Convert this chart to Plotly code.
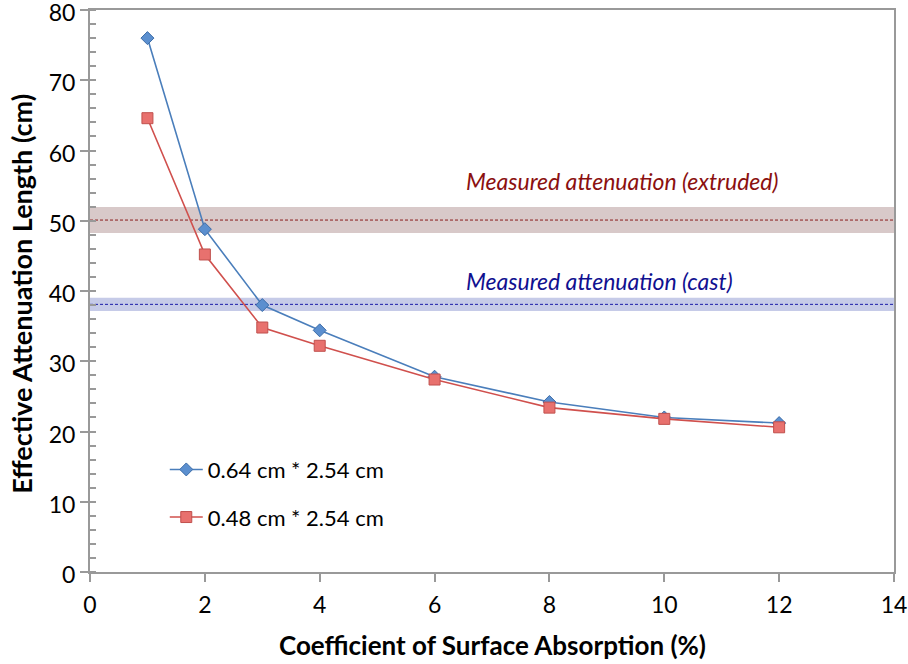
import plotly.graph_objects as go

x_vals = [1, 2, 3, 4, 6, 8, 10, 12]
series_a = [76.0, 48.8, 38.0, 34.4, 27.8, 24.2, 22.0, 21.2]
series_b = [64.6, 45.2, 34.8, 32.2, 27.4, 23.4, 21.8, 20.6]
name_a = "0.64 cm * 2.54 cm"
name_b = "0.48 cm * 2.54 cm"

measured_names = ["Measured attenuation (extruded)", "Measured attenuation (cast)"]
measured_values = [50.1, 38.1]
measured_errors = [1.85, 0.95]
measured_label_y = [55.7, 41.4]
measured_label_x = 6.52

x_ticks = [0, 2, 4, 6, 8, 10, 12, 14]
y_ticks = [0, 10, 20, 30, 40, 50, 60, 70, 80]

x_title = "Coefficient of Surface Absorption (%)"
y_title = "Effective Attenuation Length (cm)"

FONT = "Lato"
axis_grey = "#999999"
band_fill = ["#D8C9C9", "#C6CBE8"]
line_col = ["#8B1A1A", "#1A1AA8"]
text_col = ["#8B1010", "#101090"]

fig = go.Figure()

shapes = []
for v, e, bf, lc in zip(measured_values, measured_errors, band_fill, line_col):
    shapes.append(dict(type="rect", xref="paper", yref="y", x0=0, x1=1,
                       y0=v - e, y1=v + e, fillcolor=bf, line=dict(width=0),
                       layer="below"))
    shapes.append(dict(type="line", xref="paper", yref="y", x0=0, x1=1,
                       y0=v, y1=v, line=dict(color=lc, width=1, dash="3px,2px"),
                       layer="below"))

annotations = []
for nm, ly, tc in zip(measured_names, measured_label_y, text_col):
    annotations.append(dict(x=measured_label_x, y=ly, xref="x", yref="y",
                            text="<i>" + nm + "</i>",
                            showarrow=False, xanchor="left", yanchor="middle",
                            font=dict(family=FONT, size=23, color=tc)))
annotations.append(dict(x=0.5, y=-0.13, xref="paper", yref="paper",
                        text="<b>" + x_title + "</b>", showarrow=False,
                        xanchor="center", yanchor="middle",
                        font=dict(family=FONT, size=26, color="black")))
annotations.append(dict(x=-0.0846, y=0.495, xref="paper", yref="paper",
                        text="<b>" + y_title + "</b>", showarrow=False,
                        textangle=-90, xanchor="center", yanchor="middle",
                        font=dict(family=FONT, size=27, color="black")))

fig.add_trace(go.Scatter(
    x=x_vals, y=series_a, name=name_a, mode="lines+markers", legendgroup="a",
    line=dict(color="#4A7EBB", width=1.6),
    marker=dict(symbol="diamond", size=10, color="#5B8FCF",
                line=dict(color="#3D6DA8", width=1))))
fig.add_trace(go.Scatter(
    x=x_vals, y=series_b, name=name_b, mode="lines+markers", legendgroup="b",
    line=dict(color="#D0504D", width=1.6),
    marker=dict(symbol="square", size=11, color="#E8716E",
                line=dict(color="#C0504D", width=1))))

fig.update_layout(
    width=908, height=664,
    margin=dict(l=90, r=14, t=10, b=92),
    paper_bgcolor="white", plot_bgcolor="white",
    font=dict(family=FONT, size=22, color="black"),
    shapes=shapes, annotations=annotations,
    showlegend=True,
    legend=dict(x=0.093, y=0.2195, xanchor="left", yanchor="top",
                bgcolor="rgba(0,0,0,0)", font=dict(family=FONT, size=22),
                traceorder="grouped", tracegroupgap=16, itemwidth=33),
    xaxis=dict(range=[0, 14], tickvals=x_ticks, showgrid=False, zeroline=False,
               showline=True, linecolor=axis_grey, linewidth=2, mirror=True,
               ticks="outside", ticklen=8, tickcolor=axis_grey, tickwidth=1.5,
               tickfont=dict(family=FONT, size=23), automargin=False,
               ticklabeloverflow="allow", ticklabelstandoff=3),
    yaxis=dict(range=[0, 80], tickvals=y_ticks, showgrid=False, zeroline=False,
               showline=True, linecolor=axis_grey, linewidth=2, mirror=True,
               ticks="outside", ticklen=8, tickcolor=axis_grey, tickwidth=1.5,
               tickfont=dict(family=FONT, size=23), automargin=False,
               ticklabeloverflow="allow", ticklabelshift=3,
               minor=dict(dtick=2, ticks="inside", ticklen=6, tickcolor=axis_grey,
                          tickwidth=1.5, showgrid=False)),
)

fig.write_html("out.html", config={"displayModeBar": False},
               post_script="document.body.style.margin='0';document.body.style.padding='0';")
